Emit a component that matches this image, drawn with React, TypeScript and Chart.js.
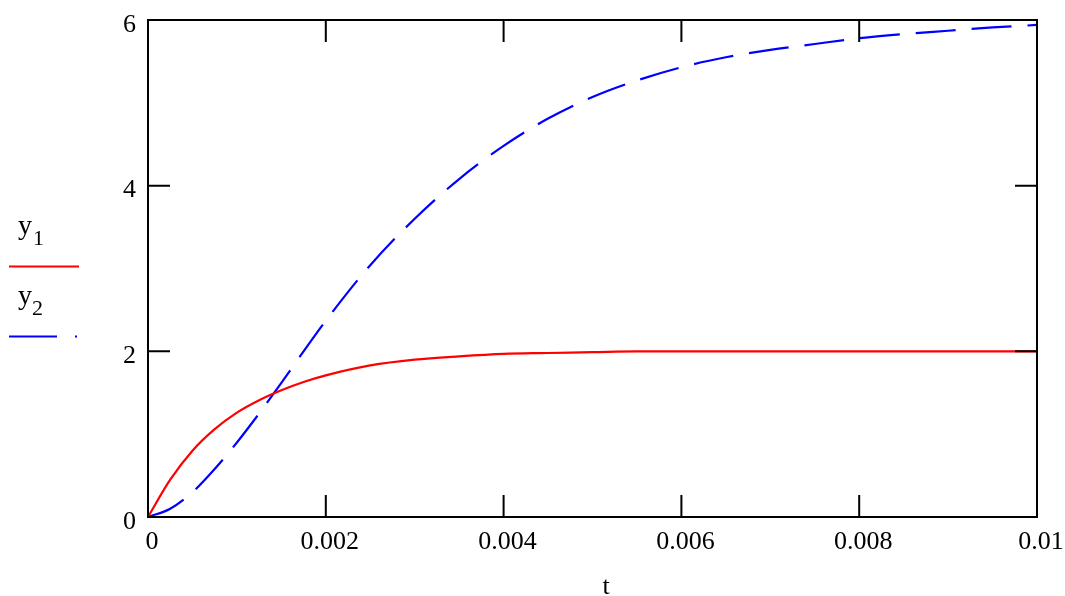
import React, { useEffect, useRef } from "react";
import { Chart, registerables } from "chart.js";

Chart.register(...registerables);

// time samples (s)
const tValues = [
  0, 0.00025, 0.0005, 0.00075, 0.001, 0.00125, 0.0015, 0.00175, 0.002, 0.0025,
  0.003, 0.0035, 0.004, 0.0045, 0.005, 0.0055, 0.006, 0.0065, 0.007, 0.0075,
  0.008, 0.0085, 0.009, 0.0095, 0.01,
];
// y1 (red, solid)
const y1Values = [
  0, 0.45, 0.8, 1.06, 1.26, 1.41, 1.53, 1.63, 1.71, 1.83,
  1.9, 1.94, 1.97, 1.98, 1.99, 2.0, 2.0, 2.0, 2.0, 2.0,
  2.0, 2.0, 2.0, 2.0, 2.0,
];
// y2 (blue, dashed)
const y2Values = [
  0, 0.1, 0.3, 0.58, 0.9, 1.25, 1.62, 2.0, 2.37, 3.04,
  3.6, 4.08, 4.48, 4.81, 5.07, 5.27, 5.43, 5.55, 5.64, 5.71,
  5.78, 5.83, 5.87, 5.91, 5.94,
];

const xTicks = [0, 0.002, 0.004, 0.006, 0.008, 0.01];
const xTickLabels = ["0", "0.002", "0.004", "0.006", "0.008", "0.01"];
const yTicks = [0, 2, 4, 6];
const yTickLabels = ["0", "2", "4", "6"];
const xTitle = "t";
const legendNames = ["y", "y"];
const legendSubs = ["1", "2"];

const RED = "rgb(255,0,0)";
const BLUE = "rgb(0,0,255)";
const FONT = "'Liberation Serif', 'Times New Roman', serif";

const framePlugin = {
  id: "mathcadFrame",
  afterDraw(chart: any) {
    const { ctx, chartArea } = chart;
    const xs = chart.scales.x;
    const ys = chart.scales.y;
    const { left, right, top, bottom } = chartArea;
    ctx.save();
    ctx.strokeStyle = "#000";
    ctx.lineWidth = 2;
    ctx.strokeRect(left, top, right - left, bottom - top);
    const tl = 22;
    ctx.beginPath();
    xTicks.forEach((v) => {
      const px = xs.getPixelForValue(v);
      ctx.moveTo(px, bottom);
      ctx.lineTo(px, bottom - tl);
      ctx.moveTo(px, top);
      ctx.lineTo(px, top + tl);
    });
    yTicks.forEach((v) => {
      const py = ys.getPixelForValue(v);
      ctx.moveTo(left, py);
      ctx.lineTo(left + tl, py);
      ctx.moveTo(right, py);
      ctx.lineTo(right - tl, py);
    });
    ctx.stroke();

    // axis title
    ctx.fillStyle = "#000";
    ctx.font = `26px ${FONT}`;
    ctx.textAlign = "center";
    ctx.textBaseline = "alphabetic";
    ctx.fillText(xTitle, 606, 594);

    // legend
    ctx.textAlign = "left";
    ctx.font = `28px ${FONT}`;
    ctx.fillText(legendNames[0], 18, 234);
    ctx.fillText(legendNames[1], 18, 304);
    ctx.font = `22px ${FONT}`;
    ctx.fillText(legendSubs[0], 33, 245);
    ctx.fillText(legendSubs[1], 32, 315);

    ctx.lineWidth = 2;
    ctx.strokeStyle = RED;
    ctx.beginPath();
    ctx.moveTo(9, 266.5);
    ctx.lineTo(79, 266.5);
    ctx.stroke();
    ctx.strokeStyle = BLUE;
    ctx.beginPath();
    ctx.moveTo(9, 336.5);
    ctx.lineTo(57, 336.5);
    ctx.moveTo(75, 336.5);
    ctx.lineTo(77, 336.5);
    ctx.stroke();
    ctx.restore();
  },
};

export default function App() {
  const ref = useRef<HTMLCanvasElement>(null);
  useEffect(() => {
    if (!ref.current) return;
    const chart = new Chart(ref.current, {
      type: "line",
      data: {
        datasets: [
          {
            label: "y1",
            data: tValues.map((t, i) => ({ x: t, y: y1Values[i] })),
            borderColor: RED,
            borderWidth: 2.2,
            pointRadius: 0,
            cubicInterpolationMode: "monotone",
            fill: false,
          },
          {
            label: "y2",
            data: tValues.map((t, i) => ({ x: t, y: y2Values[i] })),
            borderColor: BLUE,
            borderWidth: 2.2,
            borderDash: [40, 16],
            pointRadius: 0,
            cubicInterpolationMode: "monotone",
            fill: false,
          },
        ],
      },
      options: {
        animation: false,
        responsive: false,
        maintainAspectRatio: false,
        layout: { padding: { top: 20, right: 28, left: 0, bottom: 0 } },
        plugins: {
          legend: { display: false },
          tooltip: { enabled: false },
        },
        scales: {
          x: {
            type: "linear",
            min: 0,
            max: 0.01,
            afterFit: (s: any) => {
              s.height = 79;
              s.paddingLeft = 0;
              s.paddingRight = 0;
            },
            afterBuildTicks: (s: any) => {
              s.ticks = xTicks.map((v) => ({ value: v }));
            },
            grid: { display: false, drawTicks: false },
            border: { display: false },
            ticks: {
              color: "#000",
              font: { family: FONT, size: 26 },
              padding: 10,
              labelOffset: 4,
              maxRotation: 0,
              autoSkip: false,
              callback: (_v: any, i: number) => xTickLabels[i],
            },
          },
          y: {
            type: "linear",
            min: 0,
            max: 6,
            afterFit: (s: any) => {
              s.width = 148;
              s.paddingTop = 0;
              s.paddingBottom = 0;
            },
            afterBuildTicks: (s: any) => {
              s.ticks = yTicks.map((v) => ({ value: v }));
            },
            grid: { display: false, drawTicks: false },
            border: { display: false },
            ticks: {
              color: "#000",
              font: { family: FONT, size: 26 },
              padding: 12,
              labelOffset: 5,
              autoSkip: false,
              callback: (_v: any, i: number) => yTickLabels[i],
            },
          },
        },
      },
      plugins: [framePlugin],
    } as any);
    return () => chart.destroy();
  }, []);
  return (
    <div style={{ position: "absolute", left: 0, top: 0, width: 1065, height: 596, background: "#fff" }}>
      <canvas ref={ref} width={1065} height={596} style={{ display: "block" }} />
    </div>
  );
}
